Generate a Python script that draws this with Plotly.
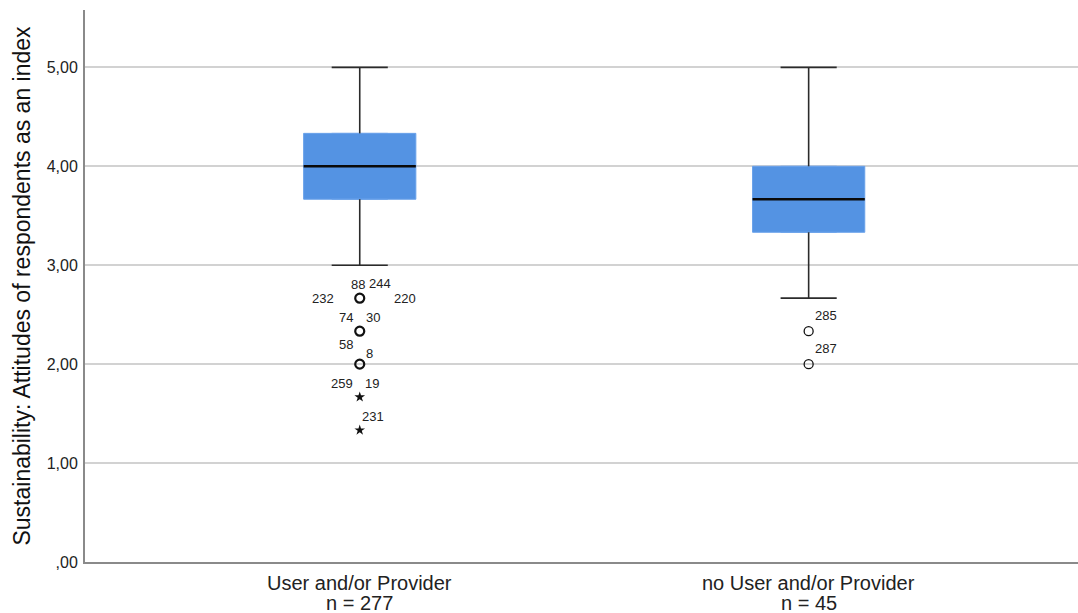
import plotly.graph_objects as go

# Group labels and sample sizes
groups = ["User and/or Provider", "no User and/or Provider"]
n_sizes = [277, 45]

# Five-number summaries per group
q1 = [3.667, 3.333]
median = [4.0, 3.667]
q3 = [4.333, 4.0]
lower_whisker = [3.0, 2.667]
upper_whisker = [5.0, 5.0]

# Outliers (circles) and extreme values (stars)
outlier_group = [0, 0, 0, 1, 1]
outlier_value = [2.667, 2.333, 2.0, 2.333, 2.0]
extreme_group = [0, 0]
extreme_value = [1.667, 1.333]

# Case-number labels: (group, value, label)
case_labels = [
    (0, 2.667, "88"), (0, 2.667, "244"), (0, 2.667, "232"), (0, 2.667, "220"),
    (0, 2.333, "74"), (0, 2.333, "30"),
    (0, 2.0, "58"), (0, 2.0, "8"),
    (0, 1.667, "259"), (0, 1.667, "19"),
    (0, 1.333, "231"),
    (1, 2.333, "285"), (1, 2.0, "287"),
]
# pixel offsets for label placement around each point
label_offsets = [
    (-2, -14), (20, -15), (-37, 0), (45, 0),
    (-14, -14), (13, -14),
    (-14, -20), (10, -11),
    (-18, -14), (12, -14),
    (13, -14),
    (17, -16), (17, -16),
]

y_ticks = [0, 1, 2, 3, 4, 5]
y_tick_text = [",00", "1,00", "2,00", "3,00", "4,00", "5,00"]

BLUE = "#5493E3"
WHISKER = "#2b2b2b"
TEXT = "#222222"
FONT = "Liberation Sans, Arial"
BOX_W = 0.25
CAP_W = 0.125

fig = go.Figure()

xs = list(range(len(groups)))

fig.add_trace(go.Box(
    x=xs, q1=q1, median=median, q3=q3,
    lowerfence=q1, upperfence=q3,
    width=BOX_W, fillcolor=BLUE,
    line=dict(color="#6aa2ea", width=1),
    boxpoints=False, showlegend=False, hoverinfo="skip",
))

# whiskers, caps and median lines
for i in xs:
    wx = [i, i, None, i, i, None,
          i - CAP_W / 2, i + CAP_W / 2, None, i - CAP_W / 2, i + CAP_W / 2]
    wy = [q3[i], upper_whisker[i], None, q1[i], lower_whisker[i], None,
          upper_whisker[i], upper_whisker[i], None, lower_whisker[i], lower_whisker[i]]
    fig.add_trace(go.Scatter(x=wx, y=wy, mode="lines",
                             line=dict(color=WHISKER, width=1.6),
                             showlegend=False, hoverinfo="skip"))
    fig.add_trace(go.Scatter(x=[i - BOX_W / 2, i + BOX_W / 2], y=[median[i], median[i]],
                             mode="lines", line=dict(color="#0a0a0a", width=2.6),
                             showlegend=False, hoverinfo="skip"))

# outliers
out_w = [2.2 if g == 0 else 1.3 for g in outlier_group]
fig.add_trace(go.Scatter(
    x=outlier_group, y=outlier_value, mode="markers",
    marker=dict(symbol="circle-open", size=9, color="#111111",
                line=dict(width=out_w, color="#111111")),
    showlegend=False, hoverinfo="skip"))

# extremes
fig.add_trace(go.Scatter(
    x=extreme_group, y=extreme_value, mode="markers",
    marker=dict(symbol="star", size=8, color="#111111", line=dict(width=0)),
    showlegend=False, hoverinfo="skip"))

for (g, v, lab), (dx, dy) in zip(case_labels, label_offsets):
    fig.add_annotation(x=g, y=v, text=lab, showarrow=False,
                       xshift=dx, yshift=-dy,
                       font=dict(family=FONT, size=13, color=TEXT))

# category labels, two lines each
for i, (g, n) in enumerate(zip(groups, n_sizes)):
    fig.add_annotation(x=i, y=0, yref="paper", text=g, showarrow=False,
                       yanchor="middle", yshift=-21,
                       font=dict(family=FONT, size=20, color=TEXT))
    fig.add_annotation(x=i, y=0, yref="paper", text=f"n = {n}", showarrow=False,
                       yanchor="middle", yshift=-41,
                       font=dict(family=FONT, size=20, color=TEXT))

fig.update_layout(
    width=1078, height=613,
    margin=dict(l=85, r=0, t=10, b=51),
    paper_bgcolor="white", plot_bgcolor="white",
    font=dict(family=FONT, color=TEXT),
    xaxis=dict(
        range=[-0.612, 1.6], tickvals=xs, ticktext=["", ""],
        showgrid=False, zeroline=False,
        showline=True, linecolor="#8a8a8a", linewidth=2,
        ticks="",
    ),
    yaxis=dict(
        range=[0, 5.58], tickvals=y_ticks, ticktext=y_tick_text,
        tickfont=dict(size=16, color=TEXT),
        showgrid=True, gridcolor="#d2d2d2", gridwidth=1.5,
        zeroline=False, showline=True, linecolor="#8a8a8a", linewidth=2,
        ticks="", ticklabelstandoff=2,
        title=dict(text="Sustainability: Attitudes of respondents as an index",
                   font=dict(size=23, color="#111111"), standoff=10),
    ),
)

fig.write_html("out.html")
